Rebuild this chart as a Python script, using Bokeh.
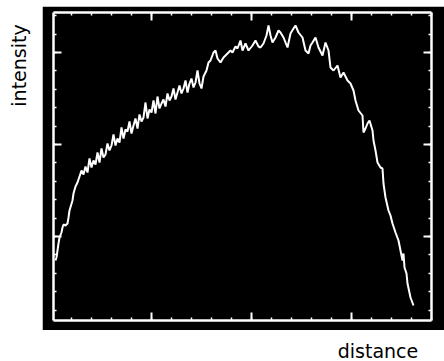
from bokeh.plotting import figure
from bokeh.models import Range1d, LinearAxis, FixedTicker, Label, Spacer
from bokeh.layouts import column, row
from bokeh.embed import file_html
from bokeh.resources import INLINE

# ---- data (arbitrary units) ----
distance = [4, 5, 6, 7, 8, 10, 11, 12, 14, 16, 17, 18, 21, 22, 24, 26, 28, 30, 32, 34,
            36, 38, 40, 42, 44, 46, 48, 50, 52, 54, 56, 58, 60, 62, 64, 66, 68, 70, 72, 74,
            76, 78, 80, 82, 84, 86, 88, 90, 92, 94, 96, 98, 100, 102, 104, 106, 108, 110, 112, 114,
            116, 118, 120, 122, 124, 126, 128, 130, 132, 134, 136, 138, 140, 142, 144, 146, 148, 150, 152, 155,
            157, 159, 162, 164, 166, 169, 172, 176, 179, 181, 184, 186, 189, 191, 194, 197, 201, 204, 207, 209,
            212, 215, 217, 219, 221, 224, 227, 229, 232, 234, 236, 239, 242, 244, 247, 251, 254, 257, 259, 261,
            264, 267, 271, 274, 277, 279, 282, 286, 289, 292, 296, 299, 302, 304, 307, 311, 312, 314, 316, 318,
            321, 322, 324, 326, 329, 331, 332, 334, 337, 339, 341, 344, 347, 349, 351, 352, 353, 355, 356, 359,
            362]
intensity = [68, 71, 78, 85, 91, 96, 101, 104, 103, 105, 111, 118, 128, 135, 142, 146, 152, 158, 154, 162,
             156, 170, 161, 168, 164, 176, 166, 180, 171, 174, 185, 178, 183, 194, 183, 190, 186, 201, 190, 199,
             197, 207, 195, 203, 210, 200, 214, 207, 211, 226, 210, 219, 216, 228, 215, 232, 220, 225, 229, 222,
             235, 228, 232, 240, 229, 236, 243, 235, 240, 248, 236, 245, 250, 241, 246, 258, 245, 240, 252, 258,
             266, 268, 276, 278, 270, 266, 271, 275, 278, 276, 282, 280, 288, 278, 285, 278, 283, 288, 282, 281,
             285, 293, 303, 293, 286, 291, 298, 296, 291, 286, 281, 295, 300, 303, 296, 291, 278, 275, 283, 286,
             291, 281, 273, 286, 278, 261, 258, 263, 251, 256, 248, 245, 238, 228, 218, 213, 196, 200, 205, 208,
             198, 188, 178, 166, 161, 160, 145, 131, 118, 113, 105, 96, 88, 78, 68, 75, 61, 55, 45, 31,
             23]

x_major = [100, 200, 300]
x_minor_step = 20
y_major = [92, 184, 276]
y_minor_step = 18.4

FONT = "DejaVu Sans"

p = figure(width=402, height=324, output_backend="svg", toolbar_location=None,
           x_range=Range1d(2, 380), y_range=Range1d(8, 316),
           background_fill_color="black", border_fill_color="black",
           min_border_left=11, min_border_right=13, min_border_top=6, min_border_bottom=10,
           outline_line_color=None)
p.grid.visible = False

p.line(distance, intensity, line_color="white", line_width=2)

xt = FixedTicker(ticks=x_major, minor_ticks=[x_minor_step * k for k in range(0, 20)])
yt = FixedTicker(ticks=y_major, minor_ticks=[round(y_minor_step * k, 2) for k in range(0, 19)])

p.add_layout(LinearAxis(), "above")
p.add_layout(LinearAxis(), "right")

for ax in p.xaxis:
    ax.ticker = xt
for ax in p.yaxis:
    ax.ticker = yt

for ax in list(p.xaxis) + list(p.yaxis):
    ax.axis_line_color = "white"
    ax.axis_line_width = 2.5
    ax.major_tick_line_color = "white"
    ax.major_tick_line_width = 2
    ax.minor_tick_line_color = "white"
    ax.minor_tick_line_width = 1.5
    ax.major_tick_in = 8
    ax.major_tick_out = 0
    ax.minor_tick_in = 3
    ax.minor_tick_out = 0
    ax.major_label_text_font_size = "1px"
    ax.major_label_text_color = None
    ax.major_label_standoff = 0
    ax.axis_label = None

ylab = figure(width=42, height=330, output_backend="svg", toolbar_location=None,
              x_range=Range1d(0, 1), y_range=Range1d(0, 1),
              x_axis_location=None, y_axis_location=None, min_border=0,
              outline_line_color=None, background_fill_color="white", border_fill_color="white")
ylab.grid.visible = False
ylab.add_layout(Label(x=18.5, y=265, x_units="screen", y_units="screen", text="intensity",
                      angle=90, angle_units="deg", text_align="center", text_baseline="alphabetic",
                      text_font=FONT, text_font_size="19px", text_color="black"))

xlab = figure(width=444, height=31, output_backend="svg", toolbar_location=None,
              x_range=Range1d(0, 1), y_range=Range1d(0, 1),
              x_axis_location=None, y_axis_location=None, min_border=0,
              outline_line_color=None, background_fill_color="white", border_fill_color="white")
xlab.grid.visible = False
xlab.add_layout(Label(x=377.5, y=10.5, x_units="screen", y_units="screen", text="distance",
                      text_align="center", text_baseline="alphabetic",
                      text_font=FONT, text_font_size="19px", text_color="black"))

layout = column(row(ylab, column(Spacer(width=402, height=6), p)), xlab)

open("out.html", "w").write(file_html(layout, INLINE))
